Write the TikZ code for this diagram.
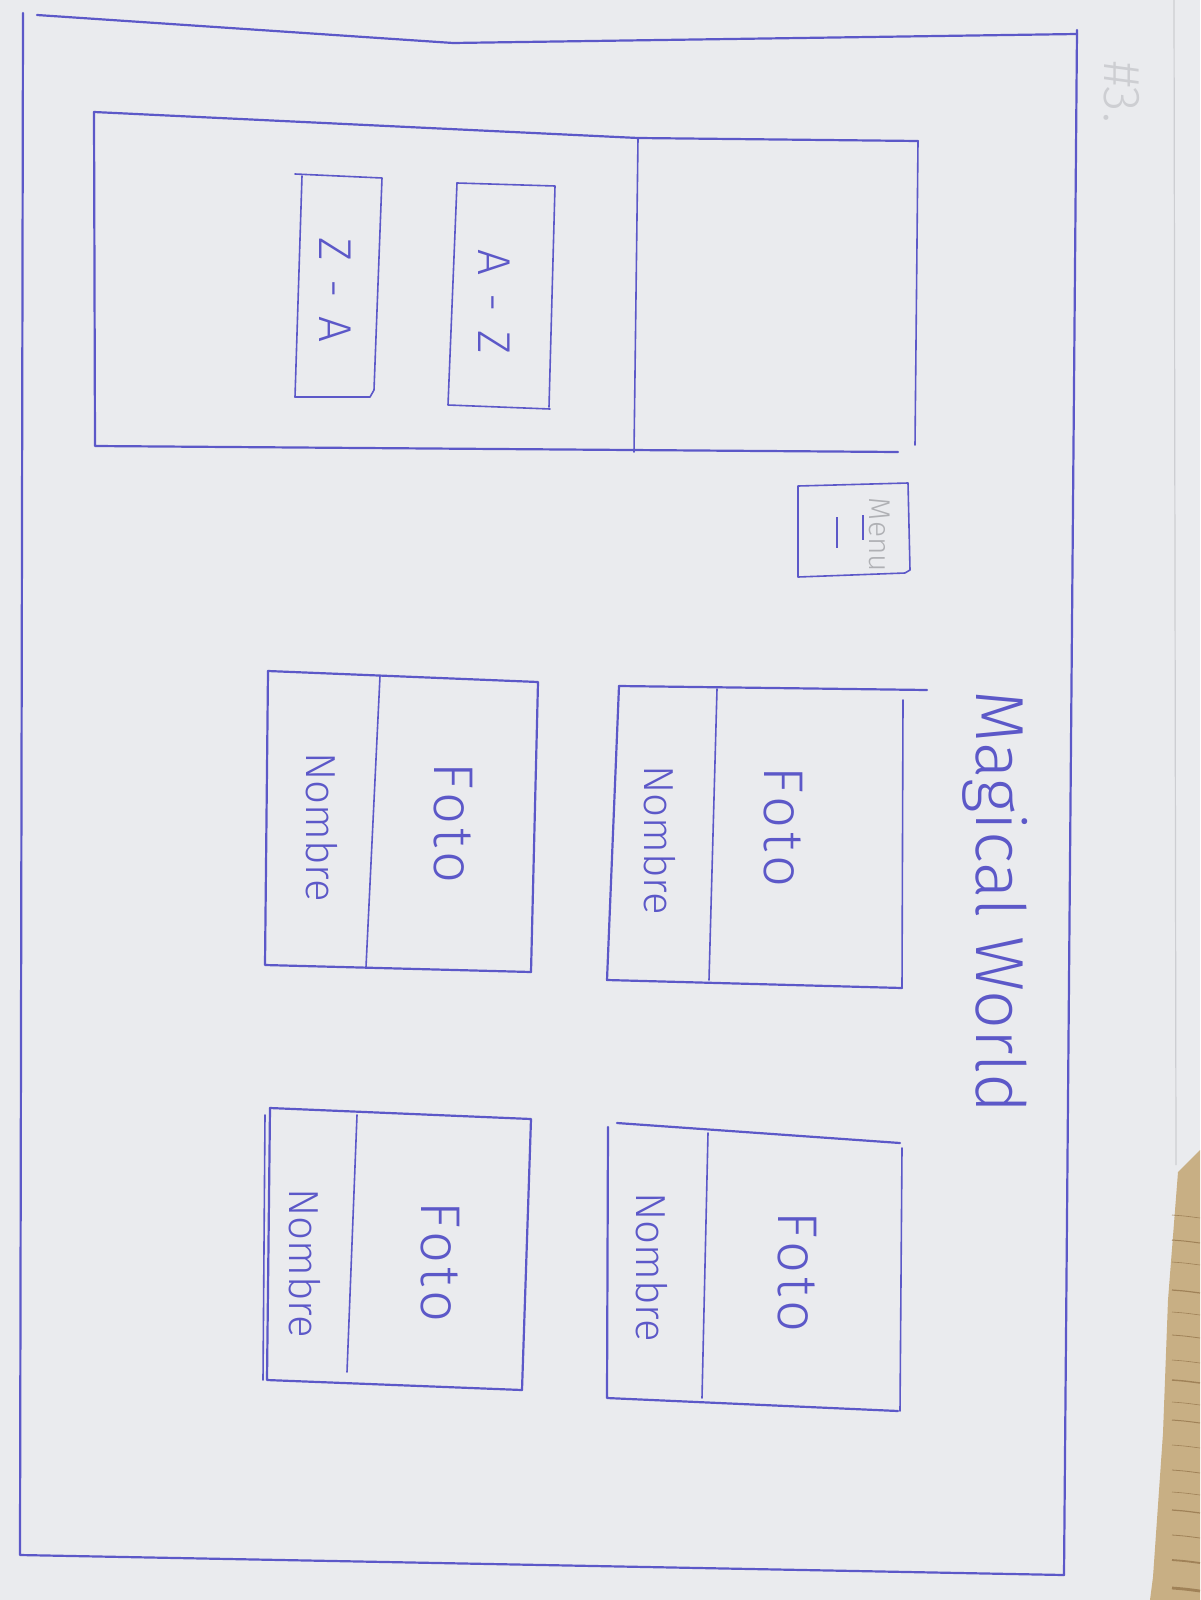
\documentclass[tikz,border=0pt]{standalone}
\usepackage{fontspec}
\setmainfont{Fira Sans}[UprightFont=* Light]
\definecolor{ink}{RGB}{92,88,200}
\definecolor{paper}{RGB}{234,235,238}
\definecolor{pencil}{RGB}{175,176,180}
\definecolor{faint}{RGB}{205,206,210}
\definecolor{wood}{RGB}{200,175,132}
\definecolor{woodd}{RGB}{160,130,88}
\tikzset{
  pen/.style={draw=ink, line width=1.1pt, line cap=round, line join=round},
  thinpen/.style={draw=ink, line width=0.8pt, line cap=round, line join=round},
  lbl/.style={text=ink, inner sep=0pt, rotate=-90, anchor=center},
  foto/.style={lbl, font=\fontsize{28}{30}\selectfont\addfontfeature{LetterSpace=8}},
  nombre/.style={lbl, font=\fontsize{21}{23}\selectfont},
}
\begin{document}
\begin{tikzpicture}[x=0.5pt,y=-0.5pt]
\useasboundingbox (0,0) rectangle (1200,1600);
% paper
\fill[paper] (0,0) rectangle (1200,1600);
\draw[faint, line width=0.6pt] (1174,0) -- (1176,1165);
% wood at the lower right
\fill[wood] (1178,1172) -- (1200,1150) -- (1200,1600) -- (1150,1600) -- (1153,1577) -- (1163,1433) -- (1168,1300) -- cycle;
\foreach \yy/\ww in {1215/0.3,1240/0.5,1262/0.3,1290/0.6,1312/0.3,1335/0.4,1360/0.3,1380/0.7,1402/0.3,1420/0.5,1445/0.3,1470/0.4,1492/0.3,1510/0.6,1535/0.4,1560/0.9,1588/1.4}
  \draw[woodd, line width=\ww pt] (1172,\yy) .. controls (1185,\yy+1) .. (1200,\yy+3);

% outer frame
\draw[pen] (23,13) -- (20,1555) -- (1064,1575);
\draw[pen] (37,15) -- (453,43) -- (1077,34);
\draw[pen] (1077,30) -- (1064,1575);

% #3. pencil note
\node[lbl, text=faint, font=\fontsize{26}{28}\selectfont] (note) at (1122,92) {\#3.};

% header / filter panel
\draw[pen] (94,112) -- (638,138) -- (918,141);
\draw[pen] (94,112) -- (95,446) -- (898,452);
\draw[thinpen] (918,141) -- (915,445);
\draw[thinpen] (638,138) -- (634,452);

% sort buttons
\draw[thinpen] (457,183) -- (555,186) -- (549,407);
\draw[thinpen] (457,183) -- (448,405) -- (550,409);
\node[lbl, font=\fontsize{23}{25}\selectfont] (az) at (494,302) {A\hspace{9pt}-\hspace{9pt}Z};
\draw[thinpen] (295,174) -- (382,178) -- (374,390) -- (370,397) -- (295,397);
\draw[thinpen] (302,176) -- (295,397);
\node[lbl, font=\fontsize{23}{25}\selectfont] (za) at (335,290) {Z\hspace{9pt}-\hspace{9pt}A};

% menu button
\draw[thinpen] (798,486) -- (908,483) -- (910,570) -- (905,573) -- (798,577) -- cycle;
\draw[ink, line width=1.2pt] (837,517) -- (837,548);
\draw[ink, line width=1.4pt] (863,515) -- (863,540);
\node[lbl, text=pencil, font=\fontsize{15}{17}\selectfont] (menu) at (880,535) {Menu};

% title
\node[lbl, font=\fontsize{34}{36}\selectfont] (title) at (995,902) {Magical World};

% card 1
\draw[pen] (619,686) -- (927,690);
\draw[pen] (619,686) -- (607,980) -- (902,988);
\draw[thinpen] (903,700) -- (902,988);
\draw[thinpen] (717,689) -- (709,980);
\node[nombre] (n1) at (660,840) {Nombre};
\node[foto] (f1) at (783,827) {Foto};

% card 2
\draw[pen] (617,1123) -- (900,1143);
\draw[pen] (608,1127) -- (607,1398) -- (898,1411);
\draw[thinpen] (902,1148) -- (900,1411);
\draw[thinpen] (708,1133) -- (702,1398);
\node[nombre] (n2) at (652,1267) {Nombre};
\node[foto] (f2) at (797,1272) {Foto};

% card 3
\draw[pen] (268,671) -- (538,682) -- (531,972);
\draw[pen] (268,671) -- (265,965) -- (531,972);
\draw[thinpen] (380,676) -- (366,967);
\node[nombre] (n3) at (322,827) {Nombre};
\node[foto] (f3) at (453,823) {Foto};

% card 4
\draw[pen] (270,1108) -- (531,1119) -- (522,1390);
\draw[pen] (270,1108) -- (267,1380) -- (522,1390);
\draw[thinpen] (265,1115) -- (263,1380);
\draw[thinpen] (357,1115) -- (347,1372);
\node[nombre] (n4) at (305,1263) {Nombre};
\node[foto] (f4) at (440,1262) {Foto};
\end{tikzpicture}
\end{document}
